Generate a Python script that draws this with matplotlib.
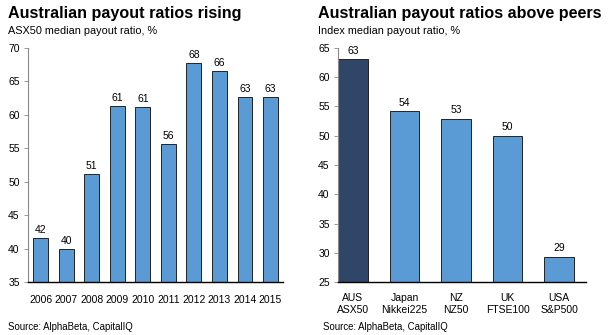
import numpy as np
import matplotlib.pyplot as plt

plt.rcParams['font.family'] = ['Liberation Sans', 'DejaVu Sans']

LIGHT = '#5b9bd5'
DARK = '#2f4668'

years = ['2006', '2007', '2008', '2009', '2010', '2011', '2012', '2013', '2014', '2015']
asx_ratio = [41.6, 39.9, 51.1, 61.3, 61.1, 55.6, 67.7, 66.5, 62.6, 62.6]
asx_labels = ['42', '40', '51', '61', '61', '56', '68', '66', '63', '63']

peers = ['AUS\nASX50', 'Japan\nNikkei225', 'NZ\nNZ50', 'UK\nFTSE100', 'USA\nS&P500']
peer_ratio = [63.1, 54.2, 52.9, 50.0, 29.3]
peer_labels = ['63', '54', '53', '50', '29']


def style_axis(ax):
    ax.spines['top'].set_visible(False)
    ax.spines['right'].set_visible(False)
    ax.spines['left'].set_color('#888888')
    ax.spines['left'].set_linewidth(0.8)
    ax.spines['bottom'].set_color('black')
    ax.spines['bottom'].set_linewidth(1.0)
    ax.tick_params(axis='y', length=3, width=0.6, color='#888888', labelsize=7.5, pad=3)
    ax.tick_params(axis='x', length=0, labelsize=7.5, pad=9)


fig = plt.figure(figsize=(6.09, 3.35), dpi=100)

# left panel
ax1 = fig.add_axes([0.046, 0.158, 0.419, 0.699])
x1 = np.arange(len(years))
ax1.bar(x1, np.array(asx_ratio) - 35, bottom=35, width=0.58, color=LIGHT,
        edgecolor='#222222', linewidth=0.7)
for xi, v, lab in zip(x1, asx_ratio, asx_labels):
    ax1.text(xi, v + 0.5, lab, ha='center', va='bottom', fontsize=7.5)
ax1.set_xlim(-0.5, 9.5)
ax1.set_ylim(35, 70)
ax1.set_yticks(range(35, 71, 5))
ax1.set_xticks(x1)
ax1.set_xticklabels(years)
style_axis(ax1)

# right panel
ax2 = fig.add_axes([0.555, 0.158, 0.407, 0.699])
x2 = np.arange(len(peers))
ax2.bar(x2, np.array(peer_ratio) - 25, bottom=25, width=0.57,
        color=[DARK] + [LIGHT] * 4, edgecolor='#222222', linewidth=0.7)
for xi, v, lab in zip(x2, peer_ratio, peer_labels):
    ax2.text(xi, v + 0.6, lab, ha='center', va='bottom', fontsize=7.5)
ax2.set_xlim(-0.29, 4.52)
ax2.set_ylim(25, 65)
ax2.set_yticks(range(25, 66, 5))
ax2.set_xticks(x2)
ax2.set_xticklabels(peers, linespacing=1.2)
ax2.tick_params(axis='x', pad=8)
style_axis(ax2)
ax2.tick_params(axis='x', pad=8)

# titles
fig.text(0.013, 0.961, 'Australian payout ratios rising', fontsize=11.6,
         fontweight='bold', va='center')
fig.text(0.013, 0.907, 'ASX50 median payout ratio, %', fontsize=7.8, va='center')
fig.text(0.522, 0.961, 'Australian payout ratios above peers', fontsize=11.6,
         fontweight='bold', va='center')
fig.text(0.522, 0.907, 'Index median payout ratio, %', fontsize=7.8, va='center')

fig.text(0.013, 0.024, 'Source: AlphaBeta, CapitalIQ', fontsize=6.9, va='center')
fig.text(0.530, 0.024, 'Source: AlphaBeta, CapitalIQ', fontsize=6.9, va='center')

fig.savefig('out.png', dpi=100)
